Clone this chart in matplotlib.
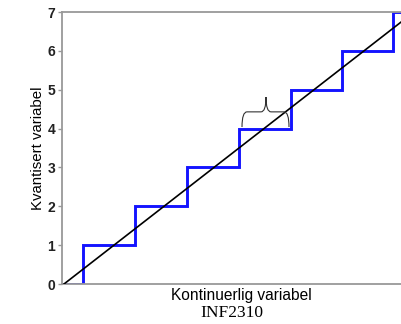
import matplotlib
matplotlib.use("Agg")
import matplotlib.pyplot as plt
from matplotlib.path import Path
from matplotlib.patches import PathPatch
import numpy as np

# Data
step_edges = [0.38, 1.42, 2.46, 3.50, 4.54, 5.56, 6.58]   # continuous value where quantized level jumps
levels = [0, 1, 2, 3, 4, 5, 6, 7]
line_x = [0, 7]
line_y = [0, 7]
y_ticks = [0, 1, 2, 3, 4, 5, 6, 7]

fig = plt.figure(figsize=(4.01, 3.24), dpi=100)
W, H = 401, 324
left, right, top, bottom = 62, 420, 12, 284
ax = fig.add_axes([left / W, 1 - bottom / H, (right - left) / W, (bottom - top) / H])

# build staircase
xs = [-0.04]
ys = [0]
for e, lv_prev, lv in zip(step_edges, levels[:-1], levels[1:]):
    xs += [e, e]
    ys += [lv_prev, lv]
xs.append(7.2)
ys.append(levels[-1])
ax.plot(xs, ys, color="#1414ff", lw=2.1, solid_joinstyle="miter", zorder=2, clip_on=True)
ax.plot(line_x, line_y, color="black", lw=1.2, zorder=3)

ax.set_xlim(-0.04, 7.12)
ax.set_ylim(0, 7)
ax.set_yticks(y_ticks)
ax.set_xticks([])
for s in ax.spines.values():
    s.set_color("#999999")
    s.set_linewidth(1.3)
ax.tick_params(axis="y", direction="out", length=3, color="#999999", width=1,
               labelsize=10, pad=2)
for lab in ax.get_yticklabels():
    lab.set_fontfamily("Liberation Sans")
    lab.set_fontweight("bold")
    lab.set_color("#222222")

ax.set_ylabel("Kvantisert variabel", family="Liberation Sans", fontsize=10.8, labelpad=1.5)
ax.set_xlabel("Kontinuerlig variabel", family="Liberation Sans", fontsize=11.2, labelpad=3)

# curly brace annotation
verts = [
    (3.56, 4.04), (3.56, 4.43), (3.66, 4.43),
    (3.94, 4.43),
    (4.04, 4.43), (4.04, 4.81),
    (4.04, 4.43), (4.14, 4.43),
    (4.40, 4.43),
    (4.50, 4.43), (4.50, 4.04),
]
codes = [Path.MOVETO, Path.CURVE3, Path.CURVE3,
         Path.LINETO,
         Path.CURVE3, Path.CURVE3,
         Path.CURVE3, Path.CURVE3,
         Path.LINETO,
         Path.CURVE3, Path.CURVE3]
ax.add_patch(PathPatch(Path(verts, codes), fill=False, edgecolor="#333333", lw=0.8, zorder=4))

fig.text(232 / W, 1 - 313 / H, "INF2310", family="Liberation Serif", fontsize=12.5,
         ha="center", va="center")

fig.savefig("out.png", dpi=100)
